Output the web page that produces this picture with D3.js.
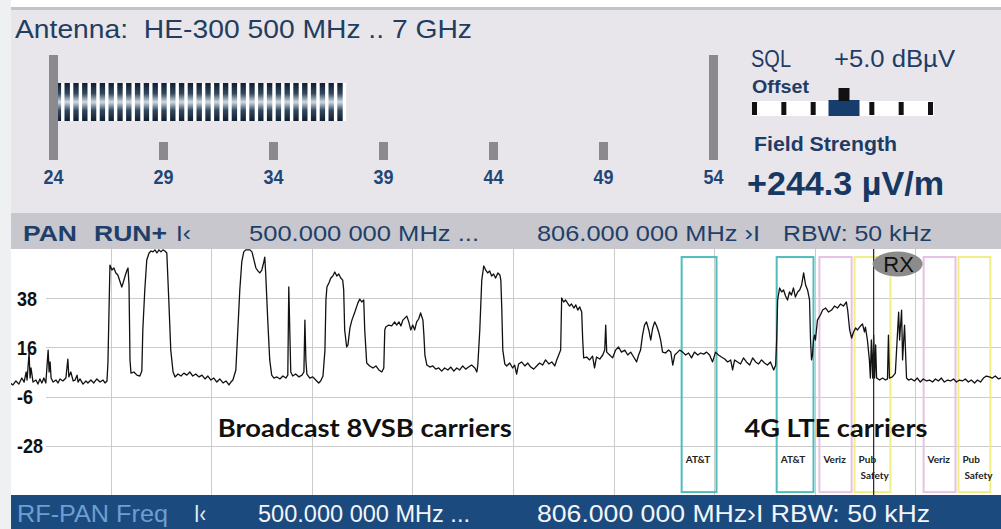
<!DOCTYPE html>
<html>
<head>
<meta charset="utf-8">
<script src="https://cdn.jsdelivr.net/npm/d3@7"></script>
<style>
  body { margin: 0; background: #fff; overflow: hidden; }
  svg { display: block; }
  svg text { white-space: pre; }
</style>
</head>
<body>
<script>
// spectrum trace, [MHz, dBuV/m]
var trace = [
  [500.0,0.1],[500.9,-0.8],[501.8,1.0],[502.7,-0.4],[503.6,2.3],[504.3,0.5],[504.9,5.0],[505.2,1.4],
  [505.8,13.5],[506.1,2.3],[506.4,6.8],[507.0,0.5],[507.9,1.4],[508.5,-0.4],[509.1,1.9],[509.7,0.1],
  [510.3,2.3],[510.9,0.1],[511.6,14.8],[511.9,5.0],[512.2,9.5],[512.5,2.3],[513.1,0.5],[514.0,1.4],
  [514.6,0.1],[515.2,1.9],[516.1,1.0],[517.0,2.3],[517.6,10.8],[517.9,2.8],[518.5,5.0],[519.2,1.0],
  [519.8,1.4],[520.4,3.6],[520.7,0.5],[521.3,1.9],[522.2,-0.4],[523.1,1.0],[523.7,0.1],[524.6,1.4],
  [525.5,0.1],[526.4,1.9],[527.4,0.5],[528.3,1.4],[528.9,0.1],[529.5,1.0],
  [529.8,9.5],[530.4,52.8],[531.0,50.6],[531.6,51.5],[532.2,49.3],[532.8,48.4],[533.4,45.7],[534.0,43.0],
  [534.4,44.8],[535.0,47.9],[535.6,50.6],[535.9,51.5],[536.2,43.9],[536.5,10.4],[536.8,4.5],[537.7,5.0],
  [538.6,3.6],[539.5,3.2],[540.1,5.4],[540.4,23.8],[541.0,41.7],[541.6,55.1],[542.3,58.2],[542.9,59.1],
  [543.5,58.7],[544.1,59.6],[544.7,58.2],[545.3,59.6],[545.9,58.7],[546.5,59.6],[547.1,59.1],[547.7,58.2],
  [548.3,37.2],[548.9,14.8],[549.6,5.0],[550.2,2.8],
  [551.1,4.1],[552.0,3.2],[552.9,4.5],[553.8,3.6],[554.7,5.0],[555.6,3.2],[556.5,4.1],[557.5,2.8],
  [558.4,3.6],[559.3,1.9],[560.2,3.2],[561.1,1.4],[562.0,2.3],[562.9,0.5],[563.8,1.9],[564.8,0.1],
  [565.7,1.0],[566.6,-0.8],[567.2,0.5],[567.8,1.4],[568.7,5.9],[569.3,23.8],[569.9,41.7],[570.5,54.2],
  [571.1,58.7],[571.7,59.6],[573.0,59.6],[573.6,58.7],[574.2,55.1],[574.8,51.5],[575.4,50.2],[576.0,49.3],
  [576.6,50.6],[577.2,54.2],[577.5,56.4],[577.8,48.4],[578.4,28.2],[579.0,10.4],[579.6,3.6],[580.3,2.3],
  [581.2,2.8],[582.1,1.9],[583.0,3.2],[583.9,2.3],[584.5,3.6],[584.8,43.0],[585.1,23.8],[585.4,5.0],
  [586.0,3.2],[586.9,4.1],[587.9,2.8],[588.8,3.6],[589.4,5.0],[589.7,28.2],[590.0,10.4],[590.3,4.1],
  [591.2,2.3],[592.1,2.8],[593.0,1.4],[593.9,0.1],[594.5,1.0],[595.2,3.2],[595.8,14.8],[596.1,37.2],
  [596.4,43.0],[597.0,44.8],[597.6,47.0],[598.2,47.9],[598.8,49.7],[599.4,47.9],[600.0,48.8],[600.6,47.0],
  [601.2,46.1],[601.5,41.7],[601.8,23.8],[602.4,16.2],
  [602.8,17.1],[603.4,24.7],[604.0,28.2],[604.9,31.8],[605.8,35.8],[606.4,37.6],[607.0,36.3],[607.6,37.2],
  [607.9,23.8],[608.5,9.0],[609.4,7.7],[610.4,6.8],[611.3,7.7],[612.2,5.9],[613.1,5.0],[613.7,6.8],
  [614.0,23.8],[614.3,25.1],[615.2,26.0],[616.1,25.6],[617.0,27.4],[617.6,26.0],[618.3,27.4],[618.9,25.6],
  [619.5,28.2],[620.1,29.1],[620.7,30.0],[621.3,27.4],[621.9,23.8],[622.5,26.0],[623.1,23.8],[623.7,27.4],
  [624.3,28.7],[624.9,31.4],[625.6,28.2],[625.9,21.5],[626.2,12.6],[626.8,8.1],[627.7,7.2],[628.6,7.7],
  [629.5,6.3],[630.4,6.8],[631.3,5.4],[632.2,6.8],[633.2,5.9],[634.1,7.2],[635.0,5.4],[635.9,6.8],
  [636.8,5.9],[637.7,7.7],[638.6,6.3],[639.5,7.2],[640.4,8.1],[641.4,6.8],[642.0,5.0],[642.3,8.1],
  [642.9,23.8],[643.5,46.1],[644.1,52.4],[644.7,50.6],[645.3,49.3],[645.9,50.2],[646.5,47.9],[647.1,48.8],
  [647.7,47.0],[648.4,49.3],[649.0,48.4],[649.3,46.1],[649.6,32.7],[649.9,14.8],[650.5,8.6],[651.1,7.7],
  [652.0,9.0],[652.9,6.8],[653.5,8.1],[654.1,4.1],[654.7,8.6],[655.6,9.5],[656.6,7.7],[657.5,9.0],
  [658.4,7.2],[659.3,6.3],[660.2,7.7],[661.1,9.0],[662.0,8.1],[662.9,10.4],[663.9,8.6],[664.8,9.5],
  [665.7,7.7],[666.3,10.4],[666.9,12.6],[667.5,14.8],[667.8,38.1],[668.4,36.3],[669.0,37.2],[669.6,35.8],
  [670.2,34.5],[670.8,35.4],[671.5,33.6],[672.1,35.0],[672.7,32.7],[673.3,34.1],[673.9,31.8],[674.2,19.3],
  [674.5,11.3],[675.4,11.7],[676.3,10.4],[677.2,12.1],[677.8,6.8],[678.4,11.7],[679.4,10.8],[680.3,12.6],
  [680.9,14.8],[681.2,26.0],[681.5,13.9],[682.4,12.6],[683.3,11.3],[684.2,14.8],[685.1,16.2],[686.0,13.9],
  [687.0,14.8],[687.9,12.6],[688.8,13.9],[689.7,11.7],[690.6,9.5],[691.2,12.6],[691.8,14.8],[692.4,21.5],
  [693.0,26.0],[693.6,27.4],[694.3,23.8],[694.9,19.3],[695.5,24.7],[696.1,27.4],[696.7,25.6],[697.3,22.9],
  [697.9,19.3],[698.5,13.9],[699.4,13.5],[700.3,14.8],[701.0,13.9],[701.6,8.1],[702.2,12.6],[703.1,13.9],
  [703.7,14.8],
  [704.6,13.9],[705.5,12.6],[706.4,13.5],[707.3,11.3],[708.2,13.9],[709.2,12.6],[710.1,13.5],[711.0,13.0],
  [711.9,13.9],[712.8,12.6],[713.7,9.5],[714.6,13.9],[715.5,12.6],[716.4,11.7],[717.4,10.8],[718.3,9.5],
  [719.2,10.4],[719.8,5.9],[720.4,10.4],[721.3,9.5],[722.2,8.6],[723.1,11.3],[724.0,9.5],[725.0,8.1],
  [725.9,11.3],[726.8,9.5],[727.7,8.6],[728.6,10.4],[729.5,9.0],[730.4,8.1],[731.3,9.5],[732.3,5.9],
  [732.9,8.1],[733.2,19.3],[733.5,37.2],[734.1,42.6],[734.7,40.8],[735.3,41.7],[735.9,39.0],[736.5,37.2],
  [737.1,40.8],[737.7,39.4],[738.3,42.6],[738.9,38.5],[739.6,40.8],[740.2,41.7],[740.8,43.9],[741.4,49.3],
  [742.0,43.9],[742.6,41.7],[743.2,37.2],[743.5,19.3],[743.8,10.4],[744.1,12.6],[744.4,19.3],[744.7,21.5],
  [745.0,19.3],[745.6,28.2],[746.5,30.5],[747.2,32.7],[748.1,33.6],[749.0,31.8],[749.9,32.7],[750.8,34.5],
  [751.7,33.6],[752.6,35.4],[753.5,34.5],[754.4,36.3],[754.8,32.7],[755.4,23.8],[756.0,20.2],[756.6,22.9],
  [757.2,24.7],[757.8,23.8],[758.7,25.6],[759.3,26.5],[759.9,22.9],[760.2,25.1],[760.8,19.3],[761.4,10.4],
  [761.7,2.3],[762.0,19.3],[762.4,2.3],[762.7,21.5],[763.0,2.3],[763.3,17.1],[763.6,2.3],[764.5,1.4],
  [765.4,2.3],[766.3,1.4],[766.9,1.9],[767.2,21.5],[767.5,2.3],[768.4,2.8],[769.3,4.5],[770.3,31.8],
  [770.6,19.3],[771.2,32.7],[771.5,10.4],[772.1,26.0],[772.7,2.3],
  [773.3,1.4],[774.2,1.9],[775.1,1.0],[776.0,2.3],[776.9,0.5],[777.8,1.9],[778.8,1.0],[779.7,1.4],
  [780.6,0.5],[781.5,1.9],[782.4,1.0],[783.3,2.3],[784.2,0.5],[785.2,1.4],[786.1,1.0],[787.0,1.9],
  [787.9,0.5],[788.8,1.4],[789.7,1.0],[790.6,1.9],[791.5,0.5],[792.4,1.4],[793.4,0.1],[794.3,1.4],
  [795.2,0.5],[796.1,2.3],[797.0,3.2],[797.9,2.8],[798.8,2.3],[799.7,3.2],[800.7,1.9],[801.3,2.3],
  [802.5,2.8]
];

var levelTicks = [-28, -6, 16, 38];
var span = [500, 806];            // MHz
var levelRange = [-50, 60];       // dB

var meterTicks = [24, 29, 34, 39, 44, 49, 54];
var meterValue = 37.3;
var offsetSteps = [-3, -2, -1, 0, 1, 2, 3];
var offsetValue = 0;

var bands = [
  {lo: 704.3, hi: 714.9, op: "AT&T",  label: ["AT&T"]},
  {lo: 733.2, hi: 744.4, op: "AT&T",  label: ["AT&T"]},
  {lo: 746.2, hi: 756.0, op: "Veriz", label: ["Veriz"]},
  {lo: 756.9, hi: 767.8, op: "Pub",   label: ["Pub", "Safety"]},
  {lo: 777.9, hi: 787.6, op: "Veriz", label: ["Veriz"]},
  {lo: 788.5, hi: 798.2, op: "Pub",   label: ["Pub", "Safety"]}
];
var markerMHz = 762.7;
var rxMark = {mhz: 770.0, db: 53.3};
var notes = [
  {text: "Broadcast 8VSB carriers", mhz: 563.2, db: -24.1},
  {text: "4G LTE carriers", mhz: 723.4, db: -24.1}
];

var bandColor = {"AT&T": "#4fbcbd", "Veriz": "#e6c2e6", "Pub": "#f1ee86"};
var NARROW = "'Liberation Sans Narrow','Liberation Sans',Arial,sans-serif";
var NAVY = "#1d3c66";

var svg = d3.select("body").append("svg")
    .attr("width", 1001)
    .attr("height", 529);

// --- frame / backgrounds
svg.append("rect").attr("width", 1001).attr("height", 529).attr("fill", "#fff");
svg.append("rect").attr("x", 0).attr("y", 0).attr("width", 11).attr("height", 529).attr("fill", "#eff0f2");
svg.append("rect").attr("x", 11).attr("y", 7).attr("width", 990).attr("height", 3).attr("fill", "#c4c4c6");
svg.append("rect").attr("x", 11).attr("y", 10).attr("width", 990).attr("height", 203).attr("fill", "#e8e6eb");

// --- antenna title
svg.append("text")
    .attr("x", 15).attr("y", 38)
    .attr("font-family", NARROW).attr("font-size", 26)
    .attr("fill", "#233d5e")
    .attr("textLength", 457).attr("lengthAdjust", "spacingAndGlyphs")
    .text("Antenna:  HE-300 500 MHz .. 7 GHz");

// --- level meter
var meterX = d3.scaleLinear().domain([24, 54]).range([53.5, 713.5]);

var defs = svg.append("defs");
var grad = defs.append("linearGradient").attr("id", "stripe").attr("x1", 0).attr("y1", 0).attr("x2", 0).attr("y2", 1);
grad.append("stop").attr("offset", "0%").attr("stop-color", "#0f1d30");
grad.append("stop").attr("offset", "28%").attr("stop-color", "#33495f");
grad.append("stop").attr("offset", "50%").attr("stop-color", "#cfdbe4");
grad.append("stop").attr("offset", "72%").attr("stop-color", "#33495f");
grad.append("stop").attr("offset", "100%").attr("stop-color", "#0f1d30");

svg.append("rect")
    .attr("x", meterX(24)).attr("y", 83)
    .attr("width", meterX(meterValue) - meterX(24)).attr("height", 38)
    .attr("fill", "#fff");

svg.append("g").selectAll("rect")
  .data(d3.range(24.1, meterValue, 0.4))
  .enter().append("rect")
    .attr("x", function(d) { return meterX(d); })
    .attr("y", 83)
    .attr("width", 5.4)
    .attr("height", 38)
    .attr("fill", "url(#stripe)");

svg.append("g").selectAll("rect")
  .data(meterTicks)
  .enter().append("rect")
    .attr("x", function(d) { return meterX(d) - 4.5; })
    .attr("y", function(d, i) { return (i === 0 || i === meterTicks.length - 1) ? 55 : 142; })
    .attr("width", 9)
    .attr("height", function(d, i) { return (i === 0 || i === meterTicks.length - 1) ? 105 : 18; })
    .attr("fill", "#8a8a8e");

svg.append("g").selectAll("text")
  .data(meterTicks)
  .enter().append("text")
    .attr("x", function(d) { return meterX(d); })
    .attr("y", 184)
    .attr("text-anchor", "middle")
    .attr("font-family", NARROW).attr("font-weight", "bold").attr("font-size", 21)
    .attr("fill", "#1f4676")
    .attr("textLength", 20).attr("lengthAdjust", "spacingAndGlyphs")
    .text(function(d) { return d; });

// --- SQL / offset / field strength
svg.append("text").attr("x", 751).attr("y", 67)
    .attr("font-family", NARROW).attr("font-size", 23).attr("fill", NAVY)
    .attr("textLength", 40).attr("lengthAdjust", "spacingAndGlyphs")
    .text("SQL");
svg.append("text").attr("x", 834).attr("y", 67)
    .attr("font-family", NARROW).attr("font-size", 23).attr("fill", NAVY)
    .attr("textLength", 121).attr("lengthAdjust", "spacingAndGlyphs")
    .text("+5.0 dBµV");
svg.append("text").attr("x", 752).attr("y", 93)
    .attr("font-family", NARROW).attr("font-weight", "bold").attr("font-size", 19).attr("fill", NAVY)
    .attr("textLength", 57).attr("lengthAdjust", "spacingAndGlyphs")
    .text("Offset");

var offX = d3.scaleLinear().domain([-3, 3]).range([754.5, 930.5]);
svg.append("rect").attr("x", 752).attr("y", 101).attr("width", 182).attr("height", 15).attr("fill", "#fff");
svg.append("g").selectAll("rect")
  .data(offsetSteps.filter(function(d) { return d !== offsetValue; }))
  .enter().append("rect")
    .attr("x", function(d) { return offX(d) - 2.5; })
    .attr("y", 102).attr("width", 5).attr("height", 13)
    .attr("fill", "#111");
svg.append("rect").attr("x", offX(offsetValue) - 14).attr("y", 100).attr("width", 31).attr("height", 16).attr("fill", "#163d6e");
svg.append("rect").attr("x", offX(offsetValue) - 4).attr("y", 88).attr("width", 11).attr("height", 13).attr("fill", "#111");

svg.append("text").attr("x", 754).attr("y", 151)
    .attr("font-family", NARROW).attr("font-weight", "bold").attr("font-size", 20).attr("fill", NAVY)
    .attr("textLength", 143).attr("lengthAdjust", "spacingAndGlyphs")
    .text("Field Strength");
svg.append("text").attr("x", 747).attr("y", 195)
    .attr("font-family", NARROW).attr("font-weight", "bold").attr("font-size", 33).attr("fill", "#173862")
    .attr("textLength", 197).attr("lengthAdjust", "spacingAndGlyphs")
    .text("+244.3 µV/m");

// --- header bar
svg.append("rect").attr("x", 11).attr("y", 213).attr("width", 990).attr("height", 36).attr("fill", "#c7c7cd");
var head = [
  {t: "PAN", x: 23, w: 54, b: true},
  {t: "RUN+", x: 94, w: 73, b: true},
  {t: "I‹", x: 176, w: 15, b: false},
  {t: "500.000 000 MHz ...", x: 249, w: 230, b: false},
  {t: "806.000 000 MHz ›I", x: 537, w: 223, b: false},
  {t: "RBW: 50 kHz", x: 783, w: 149, b: false}
];
svg.append("g").selectAll("text")
  .data(head)
  .enter().append("text")
    .attr("x", function(d) { return d.x; })
    .attr("y", 241)
    .attr("font-family", NARROW).attr("font-size", 22)
    .attr("font-weight", function(d) { return d.b ? "bold" : "normal"; })
    .attr("fill", "#1f3f6b")
    .attr("textLength", function(d) { return d.w; }).attr("lengthAdjust", "spacingAndGlyphs")
    .text(function(d) { return d.t; });

// --- spectrum plot
var x = d3.scaleLinear().domain(span).range([10, 1016]);
var y = d3.scaleLinear().domain(levelRange).range([495, 249]);

svg.append("rect").attr("x", 11).attr("y", 249).attr("width", 990).attr("height", 246).attr("fill", "#fff");

defs.append("clipPath").attr("id", "plot")
  .append("rect").attr("x", 11).attr("y", 249).attr("width", 990).attr("height", 246);

var grid = svg.append("g").attr("stroke", "#cbcbcb").attr("stroke-width", 1);
grid.selectAll("line.v")
  .data(d3.range(1, 10).map(function(i) { return span[0] + i * (span[1] - span[0]) / 10; }))
  .enter().append("line")
    .attr("x1", function(d) { return Math.round(x(d)) + 0.5; })
    .attr("x2", function(d) { return Math.round(x(d)) + 0.5; })
    .attr("y1", 249).attr("y2", 495);
grid.selectAll("line.h")
  .data(levelTicks)
  .enter().append("line")
    .attr("x1", 46).attr("x2", 1001)
    .attr("y1", function(d) { return Math.round(y(d)) + 0.5; })
    .attr("y2", function(d) { return Math.round(y(d)) + 0.5; });

svg.append("g").selectAll("text")
  .data(levelTicks)
  .enter().append("text")
    .attr("x", 17)
    .attr("y", function(d) { return y(d) + 7.5; })
    .attr("font-family", NARROW).attr("font-weight", "bold").attr("font-size", 20)
    .attr("fill", "#111")
    .attr("textLength", function(d) {
      var s = String(d);
      return s.replace("-", "").length * 10 + (s.charAt(0) === "-" ? 6 : 0);
    })
    .attr("lengthAdjust", "spacingAndGlyphs")
    .text(function(d) { return d; });

// operator band boxes
var bandG = svg.append("g");
bandG.selectAll("rect")
  .data(bands)
  .enter().append("rect")
    .attr("x", function(d) { return x(d.lo); })
    .attr("y", y(56.4))
    .attr("width", function(d) { return x(d.hi) - x(d.lo); })
    .attr("height", y(-48.7) - y(56.4))
    .attr("fill", "none")
    .attr("stroke", function(d) { return bandColor[d.op]; })
    .attr("stroke-width", 2);

bands.forEach(function(b) {
  b.label.forEach(function(line, i) {
    bandG.append("text")
      .attr("x", x(b.lo) + (line === "Safety" ? 6 : 4))
      .attr("y", y(-35.8) + i * 16)
      .attr("font-family", "Lato, 'Open Sans', sans-serif").attr("font-weight", "bold").attr("font-size", 10)
      .attr("fill", "#222")
      .text(line);
  });
});

// trace
var line = d3.line()
    .x(function(d) { return x(d[0]); })
    .y(function(d) { return y(d[1]); });

svg.append("path")
    .datum(trace)
    .attr("clip-path", "url(#plot)")
    .attr("d", line)
    .attr("fill", "none")
    .attr("stroke", "#111")
    .attr("stroke-width", 1.3)
    .attr("stroke-linejoin", "round");

// marker + RX
svg.append("line")
    .attr("x1", x(markerMHz)).attr("x2", x(markerMHz))
    .attr("y1", 249).attr("y2", 495)
    .attr("stroke", "#222").attr("stroke-width", 1.2);
svg.append("ellipse")
    .attr("cx", x(rxMark.mhz)).attr("cy", y(rxMark.db))
    .attr("rx", 25).attr("ry", 12.5)
    .attr("fill", "#8b8b8b");
svg.append("text")
    .attr("x", x(rxMark.mhz) + 1).attr("y", y(rxMark.db) + 8)
    .attr("text-anchor", "middle")
    .attr("font-family", NARROW).attr("font-size", 22)
    .attr("fill", "#111")
    .text("RX");

// carrier annotations
svg.append("g").selectAll("text")
  .data(notes)
  .enter().append("text")
    .attr("x", function(d) { return x(d.mhz); })
    .attr("y", function(d) { return y(d.db); })
    .attr("font-family", "Lato, 'Open Sans', sans-serif").attr("font-weight", "bold").attr("font-size", 24)
    .attr("fill", "#111")
    .attr("textLength", function(d, i) { return i === 0 ? 294 : 183; })
    .attr("lengthAdjust", "spacingAndGlyphs")
    .text(function(d) { return d.text; });

// --- bottom status bar
svg.append("rect").attr("x", 11).attr("y", 495).attr("width", 990).attr("height", 34).attr("fill", "#1b4b7e");
var foot = [
  {t: "RF-PAN Freq", x: 17, w: 151, c: "#6c9fd2"},
  {t: "I‹", x: 194, w: 12, c: "#e8eef6"},
  {t: "500.000 000 MHz ...", x: 258, w: 212, c: "#f2f5fa"},
  {t: "806.000 000 MHz›I RBW: 50 kHz", x: 537, w: 393, c: "#f2f5fa"}
];
svg.append("g").selectAll("text")
  .data(foot)
  .enter().append("text")
    .attr("x", function(d) { return d.x; })
    .attr("y", 522)
    .attr("font-family", NARROW).attr("font-size", 24)
    .attr("fill", function(d) { return d.c; })
    .attr("textLength", function(d) { return d.w; }).attr("lengthAdjust", "spacingAndGlyphs")
    .text(function(d) { return d.t; });
</script>
</body>
</html>
